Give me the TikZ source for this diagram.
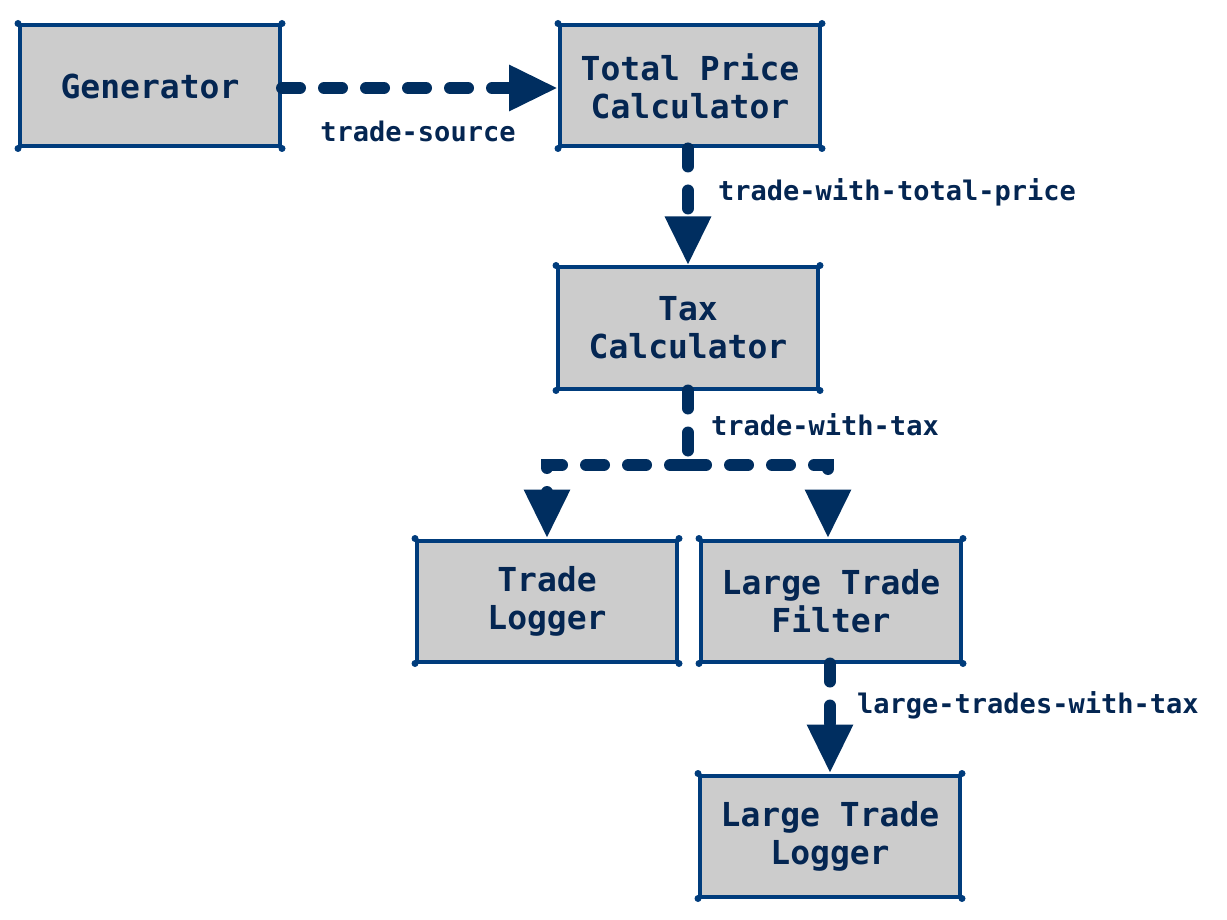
\documentclass[tikz,border=0pt]{standalone}
\usepackage{fontspec}
\setmonofont{DejaVu Sans Mono}
\usetikzlibrary{arrows.meta,calc}
\definecolor{boxline}{RGB}{0,60,124}
\definecolor{boxfill}{RGB}{204,204,204}
\definecolor{arrowc}{RGB}{0,46,96}
\definecolor{textc}{RGB}{4,38,82}
\tikzset{
  box/.style={draw=boxline, fill=boxfill, line width=4pt, minimum width=260pt, minimum height=121pt,
    inner sep=0pt, align=center, text=textc,
    font=\fontsize{33pt}{38pt}\selectfont\ttfamily\bfseries},
  flow/.style={draw=arrowc, line width=12pt, line cap=round, dash pattern=on 18pt off 24pt,
    -{Triangle[length=49pt,width=43pt]}},
  flowplain/.style={draw=arrowc, line width=12pt, line cap=round, dash pattern=on 18pt off 24pt},
  lbl/.style={text=textc, inner sep=0pt, font=\fontsize{27pt}{30pt}\selectfont\ttfamily\bfseries},
  corner/.style={fill=boxline}
}
\begin{document}
\begin{tikzpicture}[x=1pt,y=-1pt]
\useasboundingbox (0,0) rectangle (1227,920);
\node[box] (gen) at (150,86) {Generator};
\node[box] (tpc) at (690,86) {Total Price\\Calculator};
\node[box] (tax) at (688,328) {Tax\\Calculator};
\node[box] (log) at (547,601) {Trade\\Logger};
\node[box] (flt) at (831,601) {Large Trade\\Filter};
\node[box] (ltl) at (830,836) {Large Trade\\Logger};
\foreach \n in {gen,tpc,tax,log,flt,ltl}{
  \foreach \c in {north west,north east,south west,south east}{
    \fill[corner] (\n.\c) circle (3.5pt);
  }
}
\coordinate (br) at (688,465);
\draw[flow] (gen.east |- 0,88) -- (tpc.west |- 0,88);
\draw[flow] (tpc.south -| 688,0) -- (tax.north);
\draw[flowplain] (tax.south) -- (br);
\draw[flow] (br) -| (log.north);
\draw[flow] (br) -| (flt.north -| 828,0);
\draw[flow] (flt.south -| 830,0) -- (ltl.north);
\node[lbl] (l1) at (418,131) {trade-source};
\node[lbl,anchor=west] (l2) at (718,192) {trade-with-total-price};
\node[lbl,anchor=west] (l3) at (711,425) {trade-with-tax};
\node[lbl,anchor=west] (l4) at (857,705) {large-trades-with-tax};
\end{tikzpicture}
\end{document}
